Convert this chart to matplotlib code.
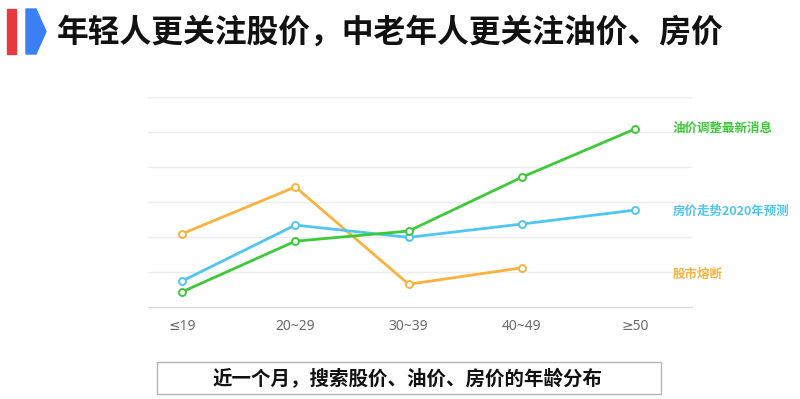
import matplotlib.pyplot as plt
from matplotlib.patches import Polygon, Rectangle

plt.rcParams['font.family'] = ['Noto Sans CJK SC', 'DejaVu Sans']

# age groups on the x axis
ages = ['≤19', '20~29', '30~39', '40~49', '≥50']

# search share by age (grid units)
oil = [0.43, 1.88, 2.17, 3.71, 5.09]
house = [0.74, 2.34, 1.99, 2.37, 2.77]
stock = [2.09, 3.43, 0.65, 1.12]

names = ['油价调整最新消息', '房价走势2020年预测', '股市熔断']
colors = ['#3ec93a', '#4fc6f1', '#f8b33e']
label_y = [5.1, 2.74, 0.92]

fig = plt.figure(figsize=(8, 3.99), dpi=100)
ax = fig.add_axes([0.185, 0.2306, 0.68, 0.5263])

for vals, c in zip([stock, house, oil], [colors[2], colors[1], colors[0]]):
    ax.plot(range(len(vals)), vals, color=c, lw=2, marker='o', ms=5,
            mfc='white', mec=c, mew=1.4, zorder=3)

ax.set_xlim(-0.3, 4.5)
ax.set_ylim(0, 6)
ax.set_yticks(range(7))
ax.yaxis.grid(True, color='#ececec', lw=1)
ax.set_axisbelow(True)
for s in ['top', 'right', 'left']:
    ax.spines[s].set_visible(False)
ax.spines['bottom'].set_color('#d8d8d8')
ax.tick_params(axis='y', left=False, labelleft=False)
ax.tick_params(axis='x', length=0, pad=9, labelsize=10, labelcolor='#6b6b6b')
ax.set_xticks(range(len(ages)))
ax.set_xticklabels(ages, family=['Noto Sans', 'DejaVu Sans'])

for n, c, y in zip(names, colors, label_y):
    ax.text(4.33, y, n, color=c, fontsize=9, fontweight='bold', va='center',
            ha='left', clip_on=False)

# title and badge
fig.text(0.071, 0.918, '年轻人更关注股价，中老年人更关注油价、房价', fontsize=22.9,
         fontweight='bold', color='#111111', va='center', ha='left')
fig.add_artist(Rectangle((7 / 800, 1 - 54 / 399), 9 / 800, 45 / 399,
                         transform=fig.transFigure, color='#e8393f'))
fig.add_artist(Polygon([(26 / 800, 1 - 9 / 399), (36 / 800, 1 - 9 / 399),
                        (46 / 800, 1 - 31.5 / 399), (36 / 800, 1 - 54 / 399),
                        (26 / 800, 1 - 54 / 399)],
                       transform=fig.transFigure, color='#3b7ff5'))

# caption box
fig.add_artist(Rectangle((157 / 800, 1 - 394 / 399), 504 / 800, 32 / 399,
                         transform=fig.transFigure, fill=False,
                         ec='#b5b5b5', lw=1))
fig.text(408 / 800, 1 - 379 / 399, '近一个月，搜索股价、油价、房价的年龄分布',
         fontsize=14, fontweight='bold', color='#111111', ha='center', va='center')

fig.savefig('out.png', dpi=100)
